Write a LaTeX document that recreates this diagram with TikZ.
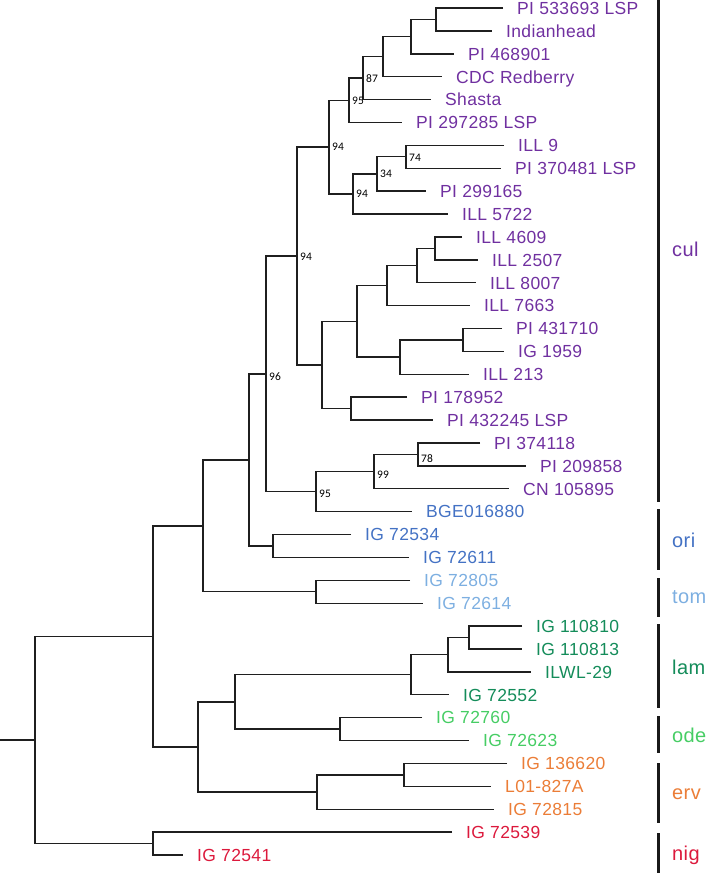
\documentclass[tikz,border=0pt]{standalone}
\usepackage{fontspec}
\setmainfont[LetterSpace=2]{Liberation Sans}
\newfontfamily\supfont{Carlito}
\usetikzlibrary{calc}
\definecolor{ccul}{RGB}{112,48,160}
\definecolor{cori}{RGB}{68,114,196}
\definecolor{ctom}{RGB}{125,175,225}
\definecolor{clam}{RGB}{20,140,90}
\definecolor{code}{RGB}{70,205,100}
\definecolor{cerv}{RGB}{235,125,55}
\definecolor{cnig}{RGB}{220,25,60}
\newcommand\inode[4]{%
  \coordinate (#1m) at ($(#3)!.5!(#4)$);
  \coordinate (#1) at (#2,0 |- #1m);
  \draw[tree] (#3) -| (#1) |- (#4);}
\newcommand\leafnode[5]{%
  \coordinate (P#1) at (#2,#3);
  \node[leaf,text=#4] (T#1) at (P#1) {#5};}
\begin{document}
\begin{tikzpicture}[x=1pt,y=-1pt,
  tree/.style={line width=1.4pt,draw=black!88},
  leaf/.style={anchor=west,inner xsep=14pt,inner ysep=0pt,text height=12.6pt,text depth=0pt,font=\fontsize{17.5}{20}\selectfont},
  sup/.style={anchor=west,inner sep=0pt,font=\supfont\fontsize{11.5}{13}\selectfont},
  grp/.style={anchor=west,inner sep=0pt,font=\fontsize{20}{24}\selectfont},
  bar/.style={line width=3pt,draw=black!90}]
\useasboundingbox (0,0) rectangle (709,873);
% leaves
\leafnode{1}{503}{8.0}{ccul}{PI 533693 LSP}
\leafnode{2}{492}{30.9}{ccul}{Indianhead}
\leafnode{3}{454}{53.8}{ccul}{PI 468901}
\leafnode{4}{442}{76.7}{ccul}{CDC Redberry}
\leafnode{5}{431}{99.6}{ccul}{Shasta}
\leafnode{6}{402}{122.5}{ccul}{PI 297285 LSP}
\leafnode{7}{504}{145.3}{ccul}{ILL 9}
\leafnode{8}{501}{168.2}{ccul}{PI 370481 LSP}
\leafnode{9}{426}{191.1}{ccul}{PI 299165}
\leafnode{10}{448}{214.0}{ccul}{ILL 5722}
\leafnode{11}{462}{236.9}{ccul}{ILL 4609}
\leafnode{12}{478}{259.8}{ccul}{ILL 2507}
\leafnode{13}{476}{282.7}{ccul}{ILL 8007}
\leafnode{14}{470}{305.6}{ccul}{ILL 7663}
\leafnode{15}{502}{328.5}{ccul}{PI 431710}
\leafnode{16}{504}{351.4}{ccul}{IG 1959}
\leafnode{17}{469}{374.2}{ccul}{ILL 213}
\leafnode{18}{407}{397.1}{ccul}{PI 178952}
\leafnode{19}{433}{420.0}{ccul}{PI 432245 LSP}
\leafnode{20}{480}{442.9}{ccul}{PI 374118}
\leafnode{21}{526}{465.8}{ccul}{PI 209858}
\leafnode{22}{509}{488.7}{ccul}{CN 105895}
\leafnode{23}{412}{511.6}{cori}{BGE016880}
\leafnode{24}{351}{534.5}{cori}{IG 72534}
\leafnode{25}{409}{557.4}{cori}{IG 72611}
\leafnode{26}{410}{580.3}{ctom}{IG 72805}
\leafnode{27}{423}{603.2}{ctom}{IG 72614}
\leafnode{28}{522}{626.1}{clam}{IG 110810}
\leafnode{29}{522}{649.0}{clam}{IG 110813}
\leafnode{30}{531}{671.8}{clam}{ILWL-29}
\leafnode{31}{449}{694.7}{clam}{IG 72552}
\leafnode{32}{422}{717.6}{code}{IG 72760}
\leafnode{33}{469}{740.5}{code}{IG 72623}
\leafnode{34}{507}{763.4}{cerv}{IG 136620}
\leafnode{35}{491}{786.3}{cerv}{L01-827A}
\leafnode{36}{494}{809.2}{cerv}{IG 72815}
\leafnode{37}{452}{832.1}{cnig}{IG 72539}
\leafnode{38}{183}{855.0}{cnig}{IG 72541}
% internal nodes
\inode{a1}{436}{P1}{P2}
\inode{a2}{411}{a1}{P3}
\inode{a3}{383}{a2}{P4}
\inode{a4}{363}{a3}{P5}
\inode{a5}{349}{a4}{P6}
\inode{b1}{406}{P7}{P8}
\inode{b2}{377}{b1}{P9}
\inode{b3}{353}{b2}{P10}
\inode{c1}{329}{a5}{b3}
\inode{d1}{435}{P11}{P12}
\inode{d2}{417}{d1}{P13}
\inode{d3}{387}{d2}{P14}
\inode{d4}{463}{P15}{P16}
\inode{d5}{400}{d4}{P17}
\inode{d6}{357}{d3}{d5}
\inode{d7}{351}{P18}{P19}
\inode{d8}{322}{d6}{d7}
\inode{e1}{297}{c1}{d8}
\inode{f1}{418}{P20}{P21}
\inode{f2}{374}{f1}{P22}
\inode{f3}{316}{f2}{P23}
\inode{g1}{266}{e1}{f3}
\inode{h1}{273}{P24}{P25}
\inode{g2}{249}{g1}{h1}
\inode{t1}{316}{P26}{P27}
\inode{g3}{203}{g2}{t1}
\inode{l1}{469}{P28}{P29}
\inode{l2}{448}{l1}{P30}
\inode{l3}{411}{l2}{P31}
\inode{o1}{340}{P32}{P33}
\inode{m1}{235}{l3}{o1}
\inode{r1}{404}{P34}{P35}
\inode{r2}{317}{r1}{P36}
\inode{m2}{198}{m1}{r2}
\inode{m3}{153}{g3}{m2}
\inode{n1}{153}{P37}{P38}
\inode{root}{35}{m3}{n1}
\coordinate (stub) at (0,0 |- root);
\draw[tree] (stub) -- (root);
% support values
\node[sup] (s87) at ($(a4)+(3,0)$) {87};
\node[sup] (s95a) at ($(a5)+(3,0)$) {95};
\node[sup] (s74) at ($(b1)+(3,1)$) {74};
\node[sup] (s34) at ($(b2)+(3,0)$) {34};
\node[sup] (s94a) at ($(b3)+(3,0)$) {94};
\node[sup] (s94b) at ($(c1)+(3,0)$) {94};
\node[sup] (s94c) at ($(e1)+(3,1)$) {94};
\node[sup] (s78) at ($(f1)+(3,4)$) {78};
\node[sup] (s99) at ($(f2)+(3,3)$) {99};
\node[sup] (s95b) at ($(f3)+(3,2)$) {95};
\node[sup] (s96) at ($(g1)+(3,3)$) {96};
% group bars
\coordinate (bc1) at (658,0);   \coordinate (bc2) at (658,502);
\coordinate (bo1) at (658,509); \coordinate (bo2) at (658,570);
\coordinate (bt1) at (658,578); \coordinate (bt2) at (658,617);
\coordinate (bl1) at (658,624); \coordinate (bl2) at (658,708);
\coordinate (bd1) at (658,716); \coordinate (bd2) at (658,753);
\coordinate (be1) at (658,763); \coordinate (be2) at (658,823);
\coordinate (bn1) at (658,833); \coordinate (bn2) at (658,873);
\draw[bar] (bc1) -- (bc2);
\draw[bar] (bo1) -- (bo2);
\draw[bar] (bt1) -- (bt2);
\draw[bar] (bl1) -- (bl2);
\draw[bar] (bd1) -- (bd2);
\draw[bar] (be1) -- (be2);
\draw[bar] (bn1) -- (bn2);
\node[grp,text=ccul] (gcul) at (672,249) {cul};
\node[grp,text=cori] (gori) at (672,540) {ori};
\node[grp,text=ctom] (gtom) at (672,597) {tom};
\node[grp,text=clam] (glam) at (672,667) {lam};
\node[grp,text=code] (gode) at (672,735) {ode};
\node[grp,text=cerv] (gerv) at (672,794) {erv};
\node[grp,text=cnig] (gnig) at (672,855) {nig};
\end{tikzpicture}
\end{document}
